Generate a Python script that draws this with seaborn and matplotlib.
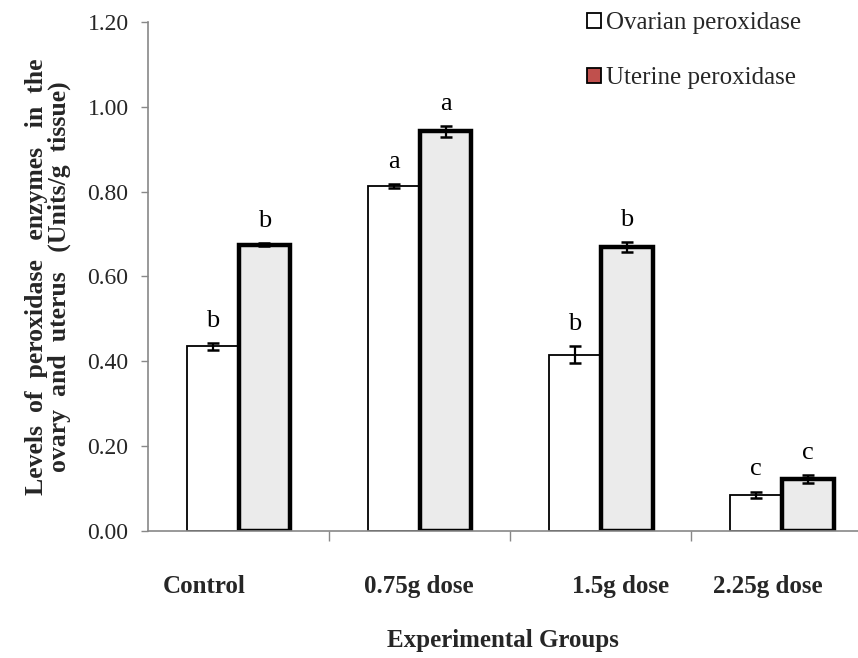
import matplotlib
matplotlib.use("Agg")
import matplotlib.pyplot as plt
from matplotlib.patches import Patch
import seaborn as sns
import pandas as pd

groups = ["Control", "0.75g dose", "1.5g dose", "2.25g dose"]
series = ["Ovarian peroxidase", "Uterine peroxidase"]
ovarian = [0.435, 0.813, 0.415, 0.085]
uterine = [0.675, 0.942, 0.670, 0.122]
ovarian_err = [0.008, 0.004, 0.020, 0.008]
uterine_err = [0.004, 0.012, 0.012, 0.010]
ovarian_letters = ["b", "a", "b", "c"]
uterine_letters = ["b", "a", "b", "c"]
yticks = [0.0, 0.2, 0.4, 0.6, 0.8, 1.0, 1.2]

df = pd.DataFrame({
    "group": groups * 2,
    "series": [series[0]] * 4 + [series[1]] * 4,
    "value": ovarian + uterine,
})

sns.set_theme(style="white")
plt.rcParams["font.family"] = ["Liberation Serif", "DejaVu Serif"]

fig = plt.figure(figsize=(8.58, 6.58), dpi=100)
ax = fig.add_axes([0.1725, 0.193, 0.8275, 0.7736])

sns.barplot(data=df, x="group", y="value", hue="series", order=groups,
            hue_order=series, width=0.572, errorbar=None, ax=ax,
            palette=["white", "#ebebeb"], legend=False)

errs = [ovarian_err, uterine_err]
vals = [ovarian, uterine]
letters = [ovarian_letters, uterine_letters]
bar_conts = list(ax.containers)
for k, cont in enumerate(bar_conts):
    for i, p in enumerate(cont.patches):
        p.set_edgecolor("black")
        p.set_linewidth(1.3 if k == 0 else 3.2)
        cx = p.get_x() + p.get_width() / 2
        ax.errorbar(cx, vals[k][i], yerr=errs[k][i], fmt="none",
                    ecolor="black", elinewidth=1.6, capsize=4, capthick=1.8,
                    zorder=5)
        ax.text(cx, vals[k][i] + errs[k][i] + 0.038, letters[k][i],
                ha="center", va="baseline", fontsize=19, color="black")

ax.set_ylim(0, 1.2)
ax.set_xlim(-0.5, 3.42)
ax.set_yticks(yticks)
ax.set_yticklabels([f"{t:.2f}" for t in yticks], fontsize=17)

label_shift = [-0.19, -0.005, 0.11, -0.077]
ax.set_xticks([i + s for i, s in enumerate(label_shift)])
ax.set_xticklabels(groups, fontsize=18, fontweight="bold")
ax.tick_params(axis="x", which="major", length=0, pad=32)
ax.set_xticks([0.5, 1.5, 2.5], minor=True)
ax.tick_params(axis="x", which="minor", length=7, width=1, color="#888888",
               direction="out", bottom=True)
ax.tick_params(axis="y", length=5, width=1, color="#888888", direction="out",
               left=True, pad=9)

for s in ["top", "right"]:
    ax.spines[s].set_visible(False)
for s in ["left", "bottom"]:
    ax.spines[s].set_color("#888888")
    ax.spines[s].set_linewidth(1.2)

ax.set_ylabel("Levels  of  peroxidase   enzymes   in  the\novary  and  uterus   (Units/g  tissue)",
              fontsize=18.5, fontweight="bold", labelpad=12, linespacing=0.95)
ax.set_xlabel("Experimental Groups", fontsize=18, fontweight="bold", labelpad=22)

handles = [Patch(facecolor="white", edgecolor="black", linewidth=1.3),
           Patch(facecolor="#c0504d", edgecolor="black", linewidth=1.3)]
ax.legend(handles, series, loc="upper left",
          bbox_to_anchor=(587 / 858, 1 - 12 / 658), bbox_transform=fig.transFigure,
          frameon=False, fontsize=18, handlelength=0.55, handleheight=0.55,
          handletextpad=0.2, labelspacing=1.32, borderpad=0, borderaxespad=0)

fig.savefig("out.png", dpi=100)
